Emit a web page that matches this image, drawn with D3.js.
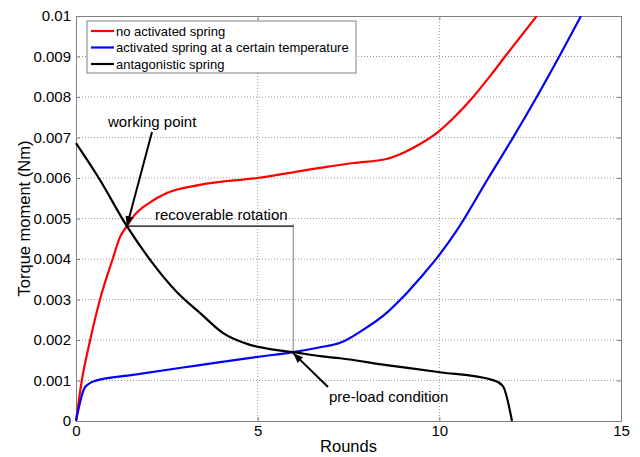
<!DOCTYPE html>
<html>
<head>
<meta charset="utf-8">
<script src="https://cdn.jsdelivr.net/npm/d3@7"></script>
<style>
  body { margin: 0; background: #fff; }
  svg text { font-family: "Liberation Sans", Arial, sans-serif; fill: #000; }
</style>
</head>
<body>
<svg id="chart" width="640" height="457"></svg>
<script>
// Curve data (rounds, torque in Nm).
const redX   = [0, 0.16, 0.39, 0.66, 1.01, 1.21, 1.40, 1.57, 2.04, 2.5, 3.41, 4.98, 6.72, 7.63, 8.55, 9.0, 9.47, 9.97, 10.39, 10.93, 11.4, 11.81, 12.68];
const redY   = [0, 0.001, 0.002, 0.003, 0.004, 0.00454, 0.00481, 0.00504, 0.0054, 0.00563, 0.00583, 0.0060, 0.00625, 0.00637, 0.00647, 0.00662, 0.00684, 0.00714, 0.00748, 0.0080, 0.00852, 0.0090, 0.0100];
const blueX  = [0, 0.25, 0.52, 1.57, 3.41, 4.97, 5.98, 6.72, 7.27, 7.9, 8.55, 9.0, 9.47, 9.93, 10.49, 11.35, 12.03, 12.68, 13.3, 13.9];
const blueY  = [0, 0.00084, 0.00099, 0.00114, 0.00138, 0.00158, 0.0017, 0.00182, 0.00193, 0.00225, 0.00267, 0.00306, 0.00353, 0.00402, 0.00472, 0.0060, 0.0070, 0.0080, 0.0090, 0.0100];
const blackX = [0, 0.66, 1.40, 2.04, 2.78, 3.41, 4.05, 4.79, 5.53, 5.98, 6.72, 7.27, 8.55, 9.97, 11.48, 11.75, 12.0];
const blackY = [0.00686, 0.00595, 0.00481, 0.00398, 0.00318, 0.00267, 0.00217, 0.00188, 0.00175, 0.0017, 0.0016, 0.00155, 0.00138, 0.00121, 0.00101, 0.00086, 0];

const seriesNames  = ['no activated spring', 'activated spring at a certain temperature', 'antagonistic spring'];
const seriesColors = ['#ff0000', '#0000ff', '#000000'];
const xTicks = [0, 5, 10, 15];
const yTicks = [0, 0.001, 0.002, 0.003, 0.004, 0.005, 0.006, 0.007, 0.008, 0.009, 0.01];

// Annotation anchors in data units.
const workingPoint = [1.40, 0.00481];
const preLoadPoint = [5.98, 0.0017];

const margin = { left: 76, right: 19, top: 16, bottom: 36 };
const width  = 640, height = 457;
const innerW = width  - margin.left - margin.right;
const innerH = height - margin.top  - margin.bottom;

const svg = d3.select('#chart');
const g   = svg.append('g').attr('transform', `translate(${margin.left},${margin.top})`);

const x = d3.scaleLinear().domain([0, 15]).range([0, innerW]);
const y = d3.scaleLinear().domain([0, 0.01]).range([innerH, 0]);

// Dotted grid.
g.append('g').selectAll('line').data(xTicks.slice(1, -1)).join('line')
  .attr('x1', d => x(d)).attr('x2', d => x(d))
  .attr('y1', 0).attr('y2', innerH)
  .attr('stroke', '#9a9a9a').attr('stroke-dasharray', '1,2');
g.append('g').selectAll('line').data(yTicks.slice(1, -1)).join('line')
  .attr('x1', 0).attr('x2', innerW)
  .attr('y1', d => y(d)).attr('y2', d => y(d))
  .attr('stroke', '#9a9a9a').attr('stroke-dasharray', '1,2');

// Axes with inward ticks.
const fmtY = d => d === 0 ? '0' : d3.format('')(+d.toFixed(3));
const xAxis = g.append('g').attr('transform', `translate(0,${innerH})`)
  .call(d3.axisBottom(x).tickValues(xTicks).tickSize(-4).tickPadding(6));
const yAxis = g.append('g')
  .call(d3.axisLeft(y).tickValues(yTicks).tickFormat(fmtY).tickSize(-4).tickPadding(5));
g.append('g')
  .call(d3.axisTop(x).tickValues(xTicks).tickSize(-4).tickFormat(''));
g.append('g').attr('transform', `translate(${innerW},0)`)
  .call(d3.axisRight(y).tickValues(yTicks).tickSize(-4).tickFormat(''));
g.selectAll('.domain, .tick line').attr('stroke', '#808080');
g.selectAll('.tick text').attr('font-size', 15).attr('fill', '#000')
  .style('font-family', '"Liberation Sans", Arial, sans-serif');
xAxis.selectAll('.tick text').attr('dy', '0.6em');

// Annotation lines (drawn under curves).
const wp = [x(workingPoint[0]), y(workingPoint[1])];
const pp = [x(preLoadPoint[0]), y(preLoadPoint[1])];
g.append('line').attr('x1', pp[0]).attr('x2', pp[0]).attr('y1', wp[1] - 2).attr('y2', pp[1])
  .attr('stroke', '#999').attr('stroke-width', 1.3);
g.append('line').attr('x1', wp[0]).attr('x2', pp[0]).attr('y1', wp[1]).attr('y2', wp[1])
  .attr('stroke', '#000').attr('stroke-width', 1.2);

// Curves.
const line = d3.line().x(d => x(d[0])).y(d => y(d[1])).curve(d3.curveMonotoneX);
const series = [
  d3.zip(redX, redY),
  d3.zip(blueX, blueY),
  d3.zip(blackX, blackY)
];
g.append('clipPath').attr('id', 'clip').append('rect')
  .attr('x', -2).attr('y', 0).attr('width', innerW + 4).attr('height', innerH + 2);
const curves = g.append('g').attr('clip-path', 'url(#clip)');
series.forEach((s, i) => {
  curves.append('path').datum(s)
    .attr('d', line)
    .attr('fill', 'none').attr('stroke', seriesColors[i]).attr('stroke-width', 2.2)
    .attr('stroke-linejoin', 'round');
});

// Arrows.
svg.append('defs').append('marker').attr('id', 'arr')
  .attr('viewBox', '0 0 10 10').attr('refX', 10).attr('refY', 5)
  .attr('markerWidth', 5).attr('markerHeight', 5).attr('orient', 'auto')
  .append('path').attr('d', 'M0,1 L10,5 L0,9 Z').attr('fill', '#000');
g.append('line').attr('x1', 152 - margin.left).attr('y1', 132 - margin.top)
  .attr('x2', wp[0]).attr('y2', wp[1])
  .attr('stroke', '#000').attr('stroke-width', 2).attr('marker-end', 'url(#arr)');
g.append('line').attr('x1', 328 - margin.left).attr('y1', 387 - margin.top)
  .attr('x2', pp[0]).attr('y2', pp[1] + 1)
  .attr('stroke', '#000').attr('stroke-width', 2).attr('marker-end', 'url(#arr)');

// Annotation texts.
g.append('text').attr('x', 108 - margin.left).attr('y', 127 - margin.top)
  .attr('font-size', 15).text('working point');
g.append('text').attr('x', 155 - margin.left).attr('y', 220 - margin.top)
  .attr('font-size', 15).text('recoverable rotation');
g.append('text').attr('x', 329 - margin.left).attr('y', 402 - margin.top)
  .attr('font-size', 15).text('pre-load condition');

// Legend.
const legend = g.append('g').attr('transform', 'translate(11,5)');
legend.append('rect').attr('width', 269).attr('height', 52)
  .attr('fill', '#fff').attr('stroke', '#808080');
seriesNames.forEach((name, i) => {
  const ly = 10 + i * 16.5;
  legend.append('line').attr('x1', 4).attr('x2', 27).attr('y1', ly).attr('y2', ly)
    .attr('stroke', seriesColors[i]).attr('stroke-width', 2.2);
  legend.append('text').attr('x', 29).attr('y', ly + 4.5).attr('font-size', 13).text(name);
});

// Axis titles.
svg.append('text').attr('x', margin.left + innerW / 2).attr('y', 452)
  .attr('text-anchor', 'middle').attr('font-size', 16.5).text('Rounds');
svg.append('text').attr('transform', `translate(30,${margin.top + innerH / 2}) rotate(-90)`)
  .attr('text-anchor', 'middle').attr('font-size', 16.5).text('Torque moment (Nm)');
</script>
</body>
</html>
